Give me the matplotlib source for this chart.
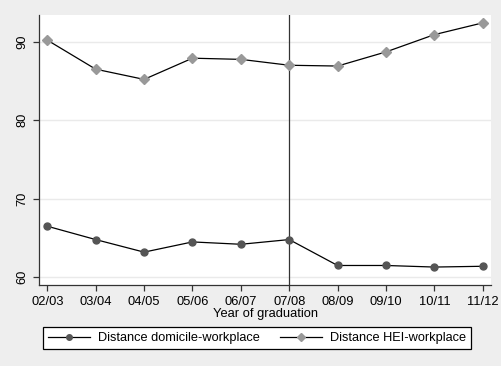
import matplotlib
matplotlib.use("Agg")
import matplotlib.pyplot as plt
import numpy as np

years = ['02/03', '03/04', '04/05', '05/06', '06/07', '07/08', '08/09', '09/10', '10/11', '11/12']
domicile = [66.5, 64.8, 63.2, 64.5, 64.2, 64.8, 61.5, 61.5, 61.3, 61.4]
hei = [90.2, 86.5, 85.2, 87.9, 87.75, 87.0, 86.9, 88.7, 90.9, 92.4]

plt.rcParams['font.family'] = ['Liberation Sans', 'DejaVu Sans']

fig = plt.figure(figsize=(5.01, 3.66), dpi=100, facecolor='#eeeeee')
ax = fig.add_axes([0.078, 0.221, 0.902, 0.738])
ax.set_facecolor('white')

x = np.arange(len(years))
ax.plot(x, domicile, color='black', lw=0.9, marker='o', ms=5,
        mfc='#555555', mec='#555555', label='Distance domicile-workplace', zorder=3)
ax.plot(x, hei, color='black', lw=0.9, marker='D', ms=5,
        mfc='#999999', mec='#999999', label='Distance HEI-workplace', zorder=3)

ax.axvline(5, color='#333333', lw=0.9, zorder=2)

ax.set_xlim(-0.17, 9.17)
ax.set_ylim(59.0, 93.4)
ax.set_xticks(x, years)
ax.set_yticks([60, 70, 80, 90])
ax.set_yticklabels(['60', '70', '80', '90'], rotation=90, va='center')
ax.grid(axis='y', color='#eaeaea', lw=1)
ax.set_axisbelow(True)

for s in ['top', 'right']:
    ax.spines[s].set_visible(False)
for s in ['left', 'bottom']:
    ax.spines[s].set_color('#333333')
    ax.spines[s].set_linewidth(0.9)
ax.tick_params(colors='#333333', labelcolor='black', labelsize=9.3, length=4, width=0.9)

ax.set_xlabel('Year of graduation', fontsize=9.3, labelpad=0)

leg = fig.legend(loc='center left', bbox_to_anchor=(43 / 501, 1 - 338 / 366), ncol=2,
                 fontsize=9.2, frameon=True, fancybox=False, edgecolor='black',
                 facecolor='white', framealpha=1, handlelength=3.3, handletextpad=0.6,
                 columnspacing=1.6, borderpad=0.4, borderaxespad=0, markerscale=0.8)
leg.get_frame().set_linewidth(0.9)

fig.savefig('out.png', dpi=100, facecolor=fig.get_facecolor())
